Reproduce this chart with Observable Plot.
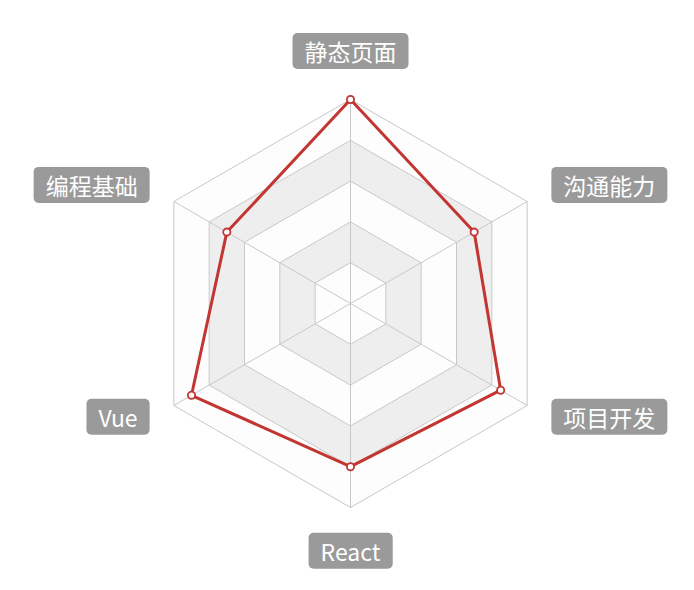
<!DOCTYPE html>
<html>
<head>
<meta charset="utf-8">
<script src="https://cdn.jsdelivr.net/npm/d3@7"></script>
<script src="https://cdn.jsdelivr.net/npm/@observablehq/plot@0.6"></script>
<style>
  html, body { margin: 0; padding: 0; background: #fff; }
  #chart svg { display: block; }
</style>
</head>
<body>
<div id="chart"></div>
<script>
// Indicators in ECharts order (counter-clockwise starting from the top)
const indicators = ["静态页面", "编程基础", "Vue", "React", "项目开发", "沟通能力"];
const values = [100, 70, 90, 80, 85, 70];
const maxValue = 100;
const ringLevels = [1.0, 0.8, 0.6, 0.4, 0.2];
const ringFills = ["#fdfdfd", "#eeeeee", "#fdfdfd", "#eeeeee", "#fdfdfd"];

const n = indicators.length;
const angle = i => (i * 2 * Math.PI) / n;
const px = (r, i) => -r * Math.sin(angle(i));
const py = (r, i) => r * Math.cos(angle(i));

// Ring polygons
function ringPoly(level) {
  const pts = [];
  for (let i = 0; i <= n; i++) {
    const k = i % n;
    pts.push({x: px(level * maxValue, k), y: py(level * maxValue, k)});
  }
  return pts;
}

// Axis spokes
const spokes = [];
indicators.forEach((name, i) => {
  spokes.push({x1: 0, y1: 0, x2: px(maxValue, i), y2: py(maxValue, i)});
});

// Data polygon
const dataPts = values.map((v, i) => ({x: px(v, i), y: py(v, i), name: indicators[i]}));
const dataPoly = [...dataPts, dataPts[0]];

// Label positions
const labelR = maxValue * 1.137;
const labels = indicators.map((name, i) => {
  const x = px(labelR, i), y = py(labelR, i);
  let side = "middle";
  if (x > 1) side = "right";
  else if (x < -1) side = "left";
  return {name, x, y, side, top: y > 0};
});

// scales: center at (350,303), 204px per 100
const s = 2.04;
const xDomain = [-350 / s, 344 / s];
const yDomain = [-(590 - 303) / s, 303 / s];

const font = "'Microsoft YaHei', 'Noto Sans CJK SC', 'Noto Sans', sans-serif";

const marks = [];
ringLevels.forEach((lv, j) => {
  marks.push(Plot.line(ringPoly(lv), {x: "x", y: "y", fill: ringFills[j], stroke: "#c8c8c8", strokeWidth: 1, curve: "linear-closed"}));
});
marks.push(Plot.link(spokes, {x1: "x1", y1: "y1", x2: "x2", y2: "y2", stroke: "#c8c8c8", strokeWidth: 1}));
marks.push(Plot.line(dataPoly, {x: "x", y: "y", stroke: "#c23531", strokeWidth: 3, strokeLinejoin: "miter"}));
marks.push(Plot.dot(dataPts, {x: "x", y: "y", r: 3.6, fill: "#ffffff", stroke: "#c23531", strokeWidth: 1.8}));

const txtOpts = {x: "x", y: "y", text: "name", fill: "#ffffff", fontSize: 23, fontFamily: font, lineAnchor: "middle"};
marks.push(Plot.text(labels.filter(d => d.side === "middle" && d.top), {...txtOpts, textAnchor: "middle", dy: -18}));
marks.push(Plot.text(labels.filter(d => d.side === "middle" && !d.top), {...txtOpts, textAnchor: "middle", dy: 18}));
marks.push(Plot.text(labels.filter(d => d.side === "right"), {...txtOpts, textAnchor: "start", dx: 12}));
marks.push(Plot.text(labels.filter(d => d.side === "left"), {...txtOpts, textAnchor: "end", dx: -12}));

const chart = Plot.plot({
  width: 694,
  height: 590,
  margin: 0,
  x: {domain: xDomain, axis: null},
  y: {domain: yDomain, axis: null},
  style: {fontFamily: font, background: "#ffffff"},
  marks
});
document.getElementById("chart").append(chart);

// Rounded label boxes behind label texts
const svgNS = "http://www.w3.org/2000/svg";
chart.querySelectorAll('g[aria-label="text"] text').forEach(t => {
  const b = t.getBBox();
  const padX = 12, h = 36;
  const cy = b.y + b.height / 2;
  const r = document.createElementNS(svgNS, "rect");
  r.setAttribute("x", b.x - padX);
  r.setAttribute("y", cy - h / 2);
  r.setAttribute("width", b.width + 2 * padX);
  r.setAttribute("height", h);
  r.setAttribute("rx", 5);
  r.setAttribute("ry", 5);
  r.setAttribute("fill", "#9a9a9a");
  r.setAttribute("stroke", "none");
  if (t.getAttribute("transform")) r.setAttribute("transform", t.getAttribute("transform"));
  t.parentNode.insertBefore(r, t);
});
</script>
</body>
</html>
